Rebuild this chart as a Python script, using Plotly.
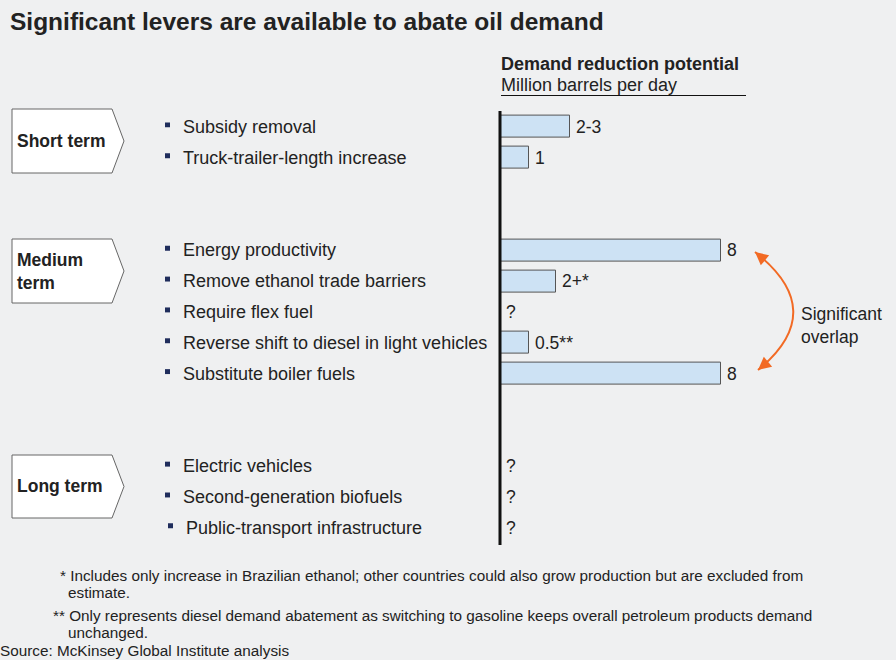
import plotly.graph_objects as go

W, H = 896, 660

# ---------------- data ----------------
levers = ["Subsidy removal", "Truck-trailer-length increase", "Energy productivity",
          "Remove ethanol trade barriers", "Require flex fuel",
          "Reverse shift to diesel in light vehicles", "Substitute boiler fuels",
          "Electric vehicles", "Second-generation biofuels", "Public-transport infrastructure"]
row_pos = [0, 1, 4, 5, 6, 7, 8, 11, 12, 13]
bar_values = [2.5, 1, 8, 2, None, 1, 8, None, None, None]
value_labels = ["2-3", "1", "8", "2+*", "?", "0.5**", "8", "?", "?", "?"]
terms = ["Short term", "Medium<br>term", "Long term"]
footnotes = [
    "* Includes only increase in Brazilian ethanol; other countries could also grow production but are excluded from",
    "estimate.",
    "** Only represents diesel demand abatement as switching to gasoline keeps overall petroleum products demand",
    "unchanged.",
    "Source: McKinsey Global Institute analysis",
]

FONT = "Liberation Sans, Arial, sans-serif"
TXT = "#222222"
BG = "#eff0f1"

def px(x):
    return x / W

def py(y):
    return 1 - y / H

fig = go.Figure()
fig.add_trace(go.Bar(
    y=row_pos, x=bar_values, orientation="h", width=0.71,
    marker=dict(color="#cde2f4", line=dict(color="#555555", width=1)),
    hoverinfo="skip", showlegend=False,
))

ann = []
shapes = []

# title
ann.append(dict(text="<b>Significant levers are available to abate oil demand</b>",
                x=px(8), y=py(22), xref="paper", yref="paper", xanchor="left", yanchor="middle",
                showarrow=False, font=dict(size=24.5, color=TXT, family=FONT)))
# header
ann.append(dict(text="<b>Demand reduction potential</b>", x=px(499), y=py(64), xref="paper", yref="paper",
                xanchor="left", yanchor="middle", showarrow=False, font=dict(size=18, color=TXT, family=FONT)))
ann.append(dict(text="Million barrels per day", x=px(499), y=py(85), xref="paper", yref="paper",
                xanchor="left", yanchor="middle", showarrow=False, font=dict(size=18, color=TXT, family=FONT)))
shapes.append(dict(type="line", xref="paper", yref="paper", x0=px(501), x1=px(746), y0=py(95.5), y1=py(95.5),
                   line=dict(color="#111111", width=1)))

# vertical axis line
shapes.append(dict(type="line", xref="paper", yref="paper", x0=px(500), x1=px(500), y0=py(111), y1=py(545),
                   line=dict(color="#111111", width=3)))

# lever labels and bullets
for i, (name, r) in enumerate(zip(levers, row_pos)):
    extra = 3 if i == len(levers) - 1 else 0
    ann.append(dict(text=name, x=px(181 + extra), y=r, xref="paper", yref="y", xanchor="left",
                    yanchor="middle", showarrow=False, font=dict(size=18, color=TXT, family=FONT)))
    shapes.append(dict(type="rect", xref="paper", yref="y", x0=px(165 + extra), x1=px(170 + extra),
                       y0=r - 0.15, y1=r + 0.01, fillcolor="#1f2d5c", line=dict(width=0)))

# value labels
for v, lab, r in zip(bar_values, value_labels, row_pos):
    xx = v if v is not None else 0
    ann.append(dict(text=lab, x=xx, y=r, xref="x", yref="y", xanchor="left", yanchor="middle",
                    xshift=4 if v is not None else 3, showarrow=False,
                    font=dict(size=17.5, color=TXT, family=FONT)))

# chevron term boxes
boxes = [(109, 173), (239, 303), (455, 518)]
for term, (t, b) in zip(terms, boxes):
    m = (t + b) / 2
    path = (f"M {px(12)},{py(t)} L {px(112)},{py(t)} L {px(124)},{py(m)} "
            f"L {px(112)},{py(b)} L {px(12)},{py(b)} Z")
    shapes.append(dict(type="path", xref="paper", yref="paper", path=path, fillcolor="white",
                       line=dict(color="#666666", width=1)))
    ann.append(dict(text=f"<b>{term}</b>", x=px(15), y=py(m), xref="paper", yref="paper",
                    xanchor="left", yanchor="middle", align="left", showarrow=False,
                    font=dict(size=17.5, color=TXT, family=FONT)))

# orange curved double arrow
ORANGE = "#f26a24"
p0, pc, p2 = (755, 252), (830, 311), (758, 370)
shapes.append(dict(type="path", xref="paper", yref="paper",
                   path=f"M {px(p0[0])},{py(p0[1])} Q {px(pc[0])},{py(pc[1])} {px(p2[0])},{py(p2[1])}",
                   line=dict(color=ORANGE, width=2)))
ann.append(dict(x=px(p0[0]), y=py(p0[1]), xref="paper", yref="paper", ax=6, ay=5, text="",
                showarrow=True, arrowhead=2, arrowsize=1.3, arrowwidth=2, arrowcolor=ORANGE))
ann.append(dict(x=px(p2[0]), y=py(p2[1]), xref="paper", yref="paper", ax=6, ay=-5, text="",
                showarrow=True, arrowhead=2, arrowsize=1.3, arrowwidth=2, arrowcolor=ORANGE))
ann.append(dict(text="Significant<br>overlap", x=px(799), y=py(325), xref="paper", yref="paper",
                xanchor="left", yanchor="middle", align="left", showarrow=False,
                font=dict(size=17.5, color=TXT, family=FONT)))

# footnotes
foot_pos = [(58, 575), (66, 592), (51, 615), (66, 632), (-2, 650)]
for txt, (x, y) in zip(footnotes, foot_pos):
    ann.append(dict(text=txt, x=px(x), y=py(y), xref="paper", yref="paper", xanchor="left",
                    yanchor="middle", showarrow=False, font=dict(size=15.3, color=TXT, family=FONT)))

fig.update_layout(
    width=W, height=H, margin=dict(l=0, r=0, t=0, b=0),
    paper_bgcolor=BG, plot_bgcolor=BG,
    xaxis=dict(domain=[px(501), px(776)], range=[0, 10], visible=False, fixedrange=True),
    yaxis=dict(domain=[py(543.4), py(111.6)], range=[13.5, -0.5], visible=False, fixedrange=True),
    annotations=ann, shapes=shapes, showlegend=False, bargap=0,
)
fig.write_html("out.html")
